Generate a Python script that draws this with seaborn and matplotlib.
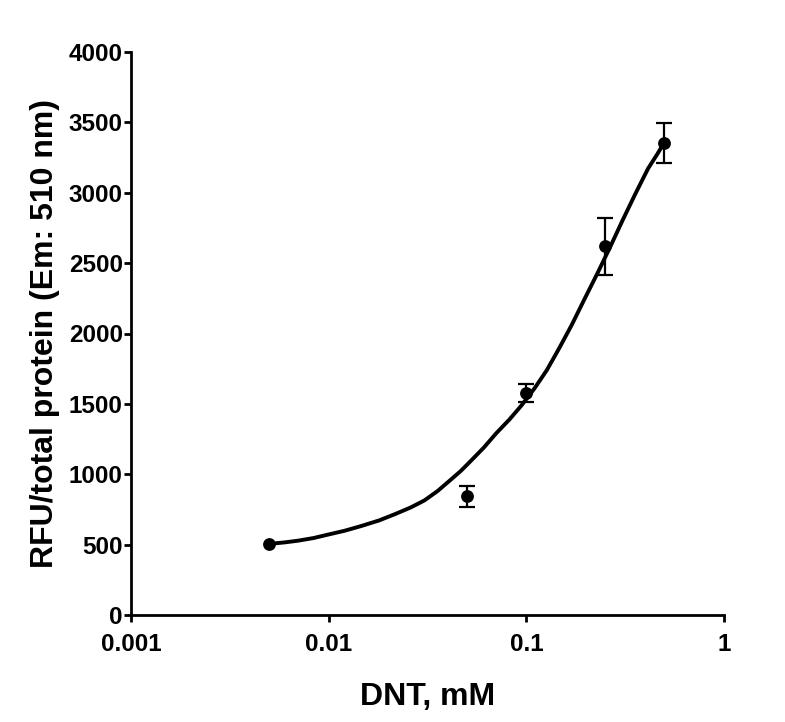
import matplotlib
matplotlib.use("Agg")
import matplotlib.pyplot as plt
import seaborn as sns
import pandas as pd
from matplotlib.ticker import FixedLocator, FixedFormatter, NullLocator

# measured points
dnt_mM = [0.005, 0.05, 0.1, 0.25, 0.5]
rfu_mean = [505, 845, 1575, 2620, 3355]
rfu_err = [0, 75, 63, 203, 143]

# fitted curve
curve_x = [0.005, 0.006, 0.007, 0.0084, 0.00984, 0.012, 0.0146, 0.018, 0.0216,
           0.026, 0.0305, 0.0355, 0.0409, 0.0465, 0.0524, 0.061, 0.0704, 0.082,
           0.0944, 0.11, 0.127, 0.147, 0.170, 0.197, 0.229, 0.266, 0.3075,
           0.356, 0.413, 0.46, 0.5]
curve_y = [505, 516, 528, 547, 570, 598, 632, 672, 716,
           764, 814, 880, 954, 1022, 1095, 1190, 1291, 1388,
           1488, 1610, 1740, 1898, 2063, 2245, 2428, 2617, 2807,
           2992, 3172, 3275, 3360]

x_ticks = [0.001, 0.01, 0.1, 1]
x_tick_labels = ["0.001", "0.01", "0.1", "1"]
y_ticks = [0, 500, 1000, 1500, 2000, 2500, 3000, 3500, 4000]

sns.set_theme(style="ticks")
plt.rcParams["font.family"] = ["Liberation Sans", "DejaVu Sans"]
plt.rcParams["font.weight"] = "bold"
plt.rcParams["text.color"] = "black"
plt.rcParams["axes.labelcolor"] = "black"
plt.rcParams["xtick.color"] = "black"
plt.rcParams["ytick.color"] = "black"

fig = plt.figure(figsize=(7.85, 7.22), dpi=100)
ax = fig.add_axes([131 / 785, 1 - 615 / 722, 593 / 785, 563 / 722])

pts = pd.DataFrame({"x": dnt_mM, "y": rfu_mean, "err": rfu_err})
cur = pd.DataFrame({"x": curve_x, "y": curve_y})
err_pts = pts[pts["err"] > 0]

sns.lineplot(data=cur, x="x", y="y", ax=ax, color="black", lw=2.8, sort=True)
ax.errorbar(err_pts["x"], err_pts["y"], yerr=err_pts["err"], fmt="none", ecolor="black",
            elinewidth=1.6, capsize=5.5, capthick=1.6, zorder=3)
sns.scatterplot(data=pts, x="x", y="y", ax=ax, color="black", s=85,
                edgecolor="black", linewidth=0, zorder=4)

ax.set_xscale("log")
ax.set_xlim(0.001, 1)
ax.set_ylim(0, 4000)
ax.xaxis.set_major_locator(FixedLocator(x_ticks))
ax.xaxis.set_major_formatter(FixedFormatter(x_tick_labels))
ax.xaxis.set_minor_locator(NullLocator())
ax.set_yticks(y_ticks)
ax.set_yticklabels([str(v) for v in y_ticks])

for side in ["top", "right"]:
    ax.spines[side].set_visible(False)
for side in ["left", "bottom"]:
    ax.spines[side].set_linewidth(2.0)
    ax.spines[side].set_color("black")

ax.tick_params(axis="both", which="major", length=5, width=2.0, color="black",
               labelcolor="black", labelsize=17.5, direction="out")
ax.tick_params(axis="y", pad=1)
ax.tick_params(axis="x", pad=8)
for lab in ax.get_xticklabels() + ax.get_yticklabels():
    lab.set_fontweight("bold")

ax.set_xlabel("DNT, mM", fontsize=23, fontweight="bold", labelpad=19, color="black")
ax.set_ylabel("RFU/total protein (Em: 510 nm)", fontsize=23, fontweight="bold",
              labelpad=6, color="black")

fig.savefig("out.png", dpi=100, facecolor="white")
